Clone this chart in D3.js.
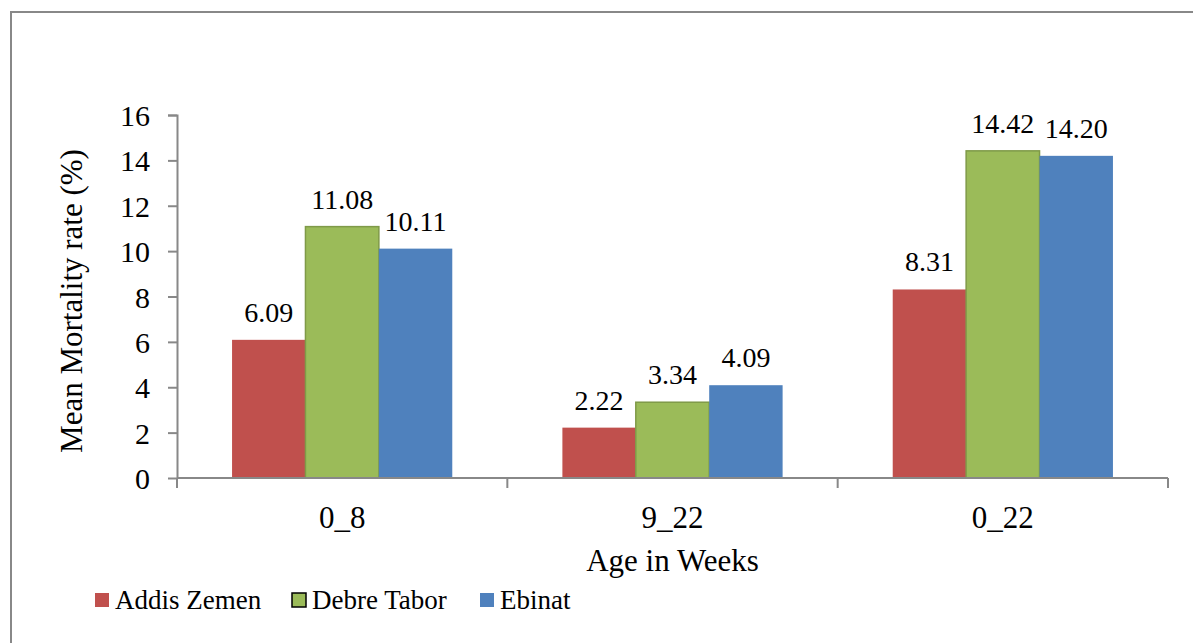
<!DOCTYPE html>
<meta charset="utf-8">
<style>
    body { margin: 0; background: #fff; }
    svg text { font-family: "Liberation Serif", serif; }
</style>
<body>

<script src="https://d3js.org/d3.v7.min.js"></script>
<script>
    var categories = ["0_8", "9_22", "0_22"];
    var seriesNames = ["Addis Zemen", "Debre Tabor", "Ebinat"];
    var addisZemen = [6.09, 2.22, 8.31];
    var debreTabor = [11.08, 3.34, 14.42];
    var ebinat = [10.11, 4.09, 14.20];
    var yTicks = [0, 2, 4, 6, 8, 10, 12, 14, 16];
    var colors = ["#c0504d", "#9bbb59", "#4f81bd"];
    var strokes = ["#c0504d", "#7f9a48", "#4f81bd"];

    var series = [addisZemen, debreTabor, ebinat];

    var margin = {top: 115, right: 25, bottom: 165, left: 177},
        width = 1168 - margin.left,
        height = 478 - margin.top;

    var root = d3.select("body").append("svg")
        .attr("width", 1193)
        .attr("height", 643)
        .attr("font-family", "Liberation Serif");

    // outer frame (right and bottom edges are cut off)
    root.append("path")
        .attr("d", "M11,650 L11,12 L1200,12")
        .attr("fill", "none")
        .attr("stroke", "#888")
        .attr("stroke-width", 2);

    var svg = root.append("g")
        .attr("transform", "translate(" + margin.left + "," + margin.top + ")");

    var x = d3.scaleBand()
        .domain(categories)
        .range([0, width])
        .paddingInner(0)
        .paddingOuter(0);

    // gap width 150%: bars fill the middle two thirds of each category
    var x1 = d3.scaleBand()
        .domain(seriesNames)
        .range([x.bandwidth() / 6, x.bandwidth() * 5 / 6]);

    var y = d3.scaleLinear()
        .domain([0, 16])
        .range([height, 0]);

    // bars
    seriesNames.forEach(function(name, s) {
        svg.selectAll(".bar" + s)
            .data(series[s])
            .enter().append("rect")
            .attr("x", (d, i) => x(categories[i]) + x1(name))
            .attr("y", d => y(d))
            .attr("width", x1.bandwidth())
            .attr("height", d => y(0) - y(d))
            .attr("fill", colors[s])
            .attr("stroke", s == 1 ? strokes[s] : "none")
            .attr("stroke-width", 1.5);

        svg.selectAll(".lab" + s)
            .data(series[s])
            .enter().append("text")
            .attr("x", (d, i) => x(categories[i]) + x1(name) + x1.bandwidth() / 2)
            .attr("y", d => y(d) - 18)
            .attr("text-anchor", "middle")
            .attr("font-size", 28)
            .text(d => d.toFixed(2));
    });

    // y axis
    var yAxis = svg.append("g")
        .call(d3.axisLeft(y).tickValues(yTicks).tickSize(9).tickPadding(18).tickFormat(d3.format("d")))
        .attr("font-family", null)
        .attr("font-size", 30);
    yAxis.select(".domain").attr("stroke", "#888").attr("stroke-width", 2).attr("d", "M-9,0.5H0.5V" + height);
    yAxis.selectAll(".tick line").attr("stroke", "#888").attr("stroke-width", 2);
    yAxis.selectAll(".tick text").attr("dy", "0.35em");

    // x axis
    var xAxis = svg.append("g")
        .attr("transform", "translate(0," + height + ")")
        .call(d3.axisBottom(x).tickSize(0).tickPadding(28))
        .attr("font-family", null)
        .attr("font-size", 31);
    xAxis.select(".domain").attr("stroke", "#888").attr("stroke-width", 2).attr("d", "M0,0H" + width);

    // category separators
    xAxis.selectAll(".sep")
        .data(d3.range(categories.length + 1))
        .enter().append("line")
        .attr("x1", i => i * x.step())
        .attr("x2", i => i * x.step())
        .attr("y1", 0)
        .attr("y2", 10)
        .attr("stroke", "#888")
        .attr("stroke-width", 2);

    // axis titles
    svg.append("text")
        .attr("x", width / 2)
        .attr("y", height + 93)
        .attr("text-anchor", "middle")
        .attr("font-size", 31)
        .text("Age in Weeks");

    svg.append("text")
        .attr("transform", "translate(-95," + (301 - margin.top) + ") rotate(-90)")
        .attr("text-anchor", "middle")
        .attr("font-size", 31)
        .text("Mean Mortality rate (%)");

    // legend
    var legendX = [95, 292, 480];
    var legend = root.append("g");
    seriesNames.forEach(function(name, s) {
        var row = legend.append("g").attr("transform", "translate(" + legendX[s] + ",593)");
        row.append("rect")
            .attr("width", 14).attr("height", 14)
            .attr("fill", colors[s])
            .attr("stroke", s == 1 ? "#000" : "none")
            .attr("stroke-width", 1.5);
        row.append("text").attr("x", 20).attr("y", 16)
            .attr("font-size", 27)
            .text(name);
    });

    root.selectAll("text").attr("fill", "#000");
</script>

</body>
</html>
